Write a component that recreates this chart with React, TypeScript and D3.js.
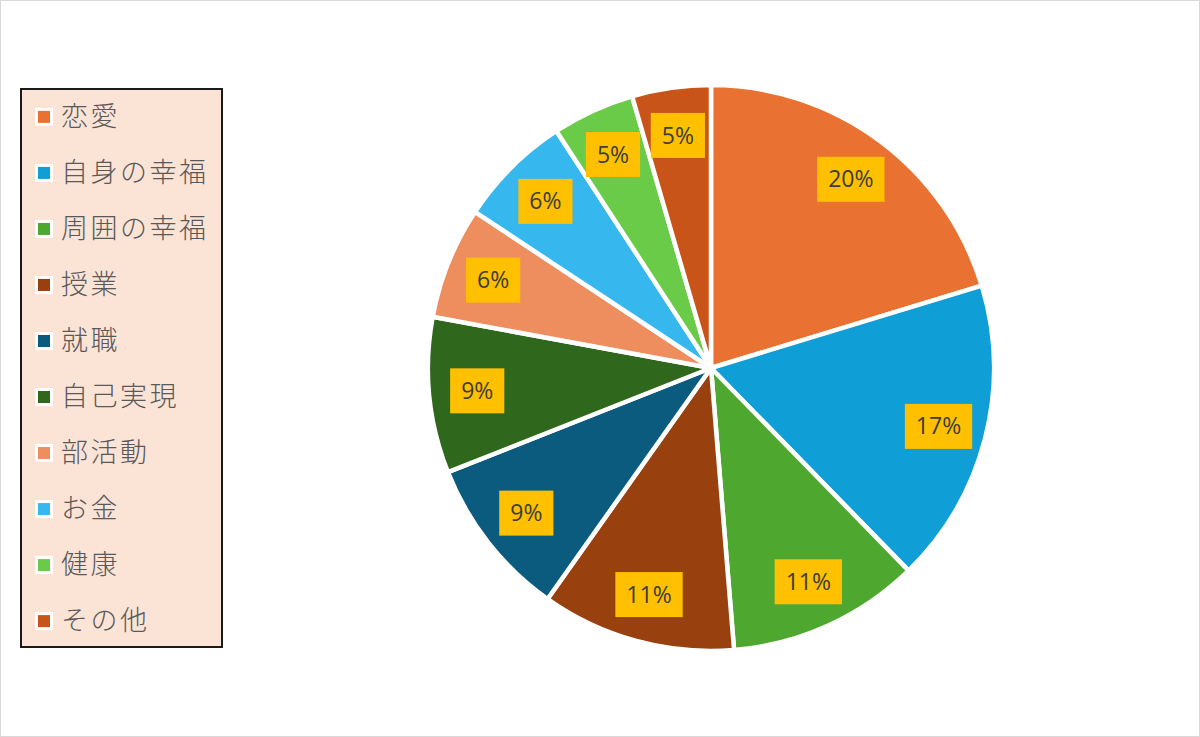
import React, { useEffect, useRef } from 'react'
import * as d3 from 'd3'

const categories = ['恋愛', '自身の幸福', '周囲の幸福', '授業', '就職', '自己実現', '部活動', 'お金', '健康', 'その他']
const values = [20.3, 17.4, 11.0, 11.1, 9.2, 8.9, 6.4, 6.5, 4.7, 4.5]
const labels = ['20%', '17%', '11%', '11%', '9%', '9%', '6%', '6%', '5%', '5%']
const sliceColors = ['#E97132', '#0F9ED5', '#4EA72E', '#99400F', '#0B5B7F', '#2F671C', '#EE8E5E', '#36B7EE', '#6ACB48', '#C9541A']

const W = 1200
const H = 737

export default function App() {
    const ref = useRef<SVGSVGElement>(null)

    useEffect(() => {
        const svg = d3.select(ref.current)
        svg.selectAll('*').remove()

        // chart background + light frame
        svg.append('rect')
            .attr('x', 0.5).attr('y', 0.5)
            .attr('width', W - 1).attr('height', H - 1)
            .attr('fill', '#fff')
            .attr('stroke', '#d9d9d9')

        const cx = 711, cy = 368, R = 283

        const pie = d3.pie<number>().sort(null).value(d => d)
        const arcs = pie(values)
        const arc = d3.arc<d3.PieArcDatum<number>>().innerRadius(0).outerRadius(R)
        const labelArc = d3.arc<d3.PieArcDatum<number>>().innerRadius(R * 0.83).outerRadius(R * 0.83)

        const g = svg.append('g').attr('transform', `translate(${cx},${cy})`)

        g.selectAll('path.slice')
            .data(arcs)
            .join('path')
            .attr('class', 'slice')
            .attr('d', arc)
            .attr('fill', (d, i) => sliceColors[i])
            .attr('stroke', '#fff')
            .attr('stroke-width', 4.5)
            .attr('stroke-linejoin', 'round')

        // data labels in yellow boxes
        const lab = g.selectAll('g.lab')
            .data(arcs)
            .join('g')
            .attr('class', 'lab')
            .attr('transform', d => {
                const [x, y] = labelArc.centroid(d)
                return `translate(${x},${y})`
            })

        lab.append('rect').attr('fill', '#FFC000')
        lab.append('text')
            .attr('text-anchor', 'middle')
            .attr('dy', '0.35em')
            .style('font-family', '"Open Sans", "Liberation Sans", sans-serif')
            .style('font-size', '23px')
            .attr('fill', '#3d3d3d')
            .text((d, i) => labels[i])

        lab.each(function () {
            const node = d3.select(this)
            const t = node.select('text').node() as SVGTextElement
            const w = t.getComputedTextLength() + 22
            const h = 45
            node.select('rect')
                .attr('x', -w / 2).attr('y', -h / 2)
                .attr('width', w).attr('height', h)
        })

        // legend
        const lx = 21, ly = 89, lw = 201, lh = 558
        svg.append('rect')
            .attr('x', lx).attr('y', ly)
            .attr('width', lw).attr('height', lh)
            .attr('fill', '#FBE3D6')
            .attr('stroke', '#1a1a1a')
            .attr('stroke-width', 2)

        const rowY = d3.scaleBand<string>()
            .domain(categories)
            .range([ly + 0, ly + lh])
            .paddingOuter(-0.02)

        const items = svg.selectAll('g.leg')
            .data(categories)
            .join('g')
            .attr('class', 'leg')
            .attr('transform', d => `translate(0,${rowY(d)! + rowY.bandwidth() / 2})`)

        items.append('rect')
            .attr('x', 35).attr('y', -8)
            .attr('width', 18).attr('height', 18)
            .attr('fill', '#fff')
        items.append('rect')
            .attr('x', 38).attr('y', -5)
            .attr('width', 12).attr('height', 12)
            .attr('fill', (d, i) => sliceColors[i])
        items.append('text')
            .attr('x', 61)
            .attr('dy', '0.36em')
            .style('font-family', '"Noto Sans CJK JP", sans-serif')
            .style('font-size', '27px')
            .style('font-weight', 300)
            .style('letter-spacing', '2.5px')
            .attr('fill', '#595959')
            .text(d => d)
    }, [])

    return (
        <svg ref={ref} width={W} height={H}
            style={{ position: 'absolute', left: 0, top: 0, display: 'block' }} />
    )
}
